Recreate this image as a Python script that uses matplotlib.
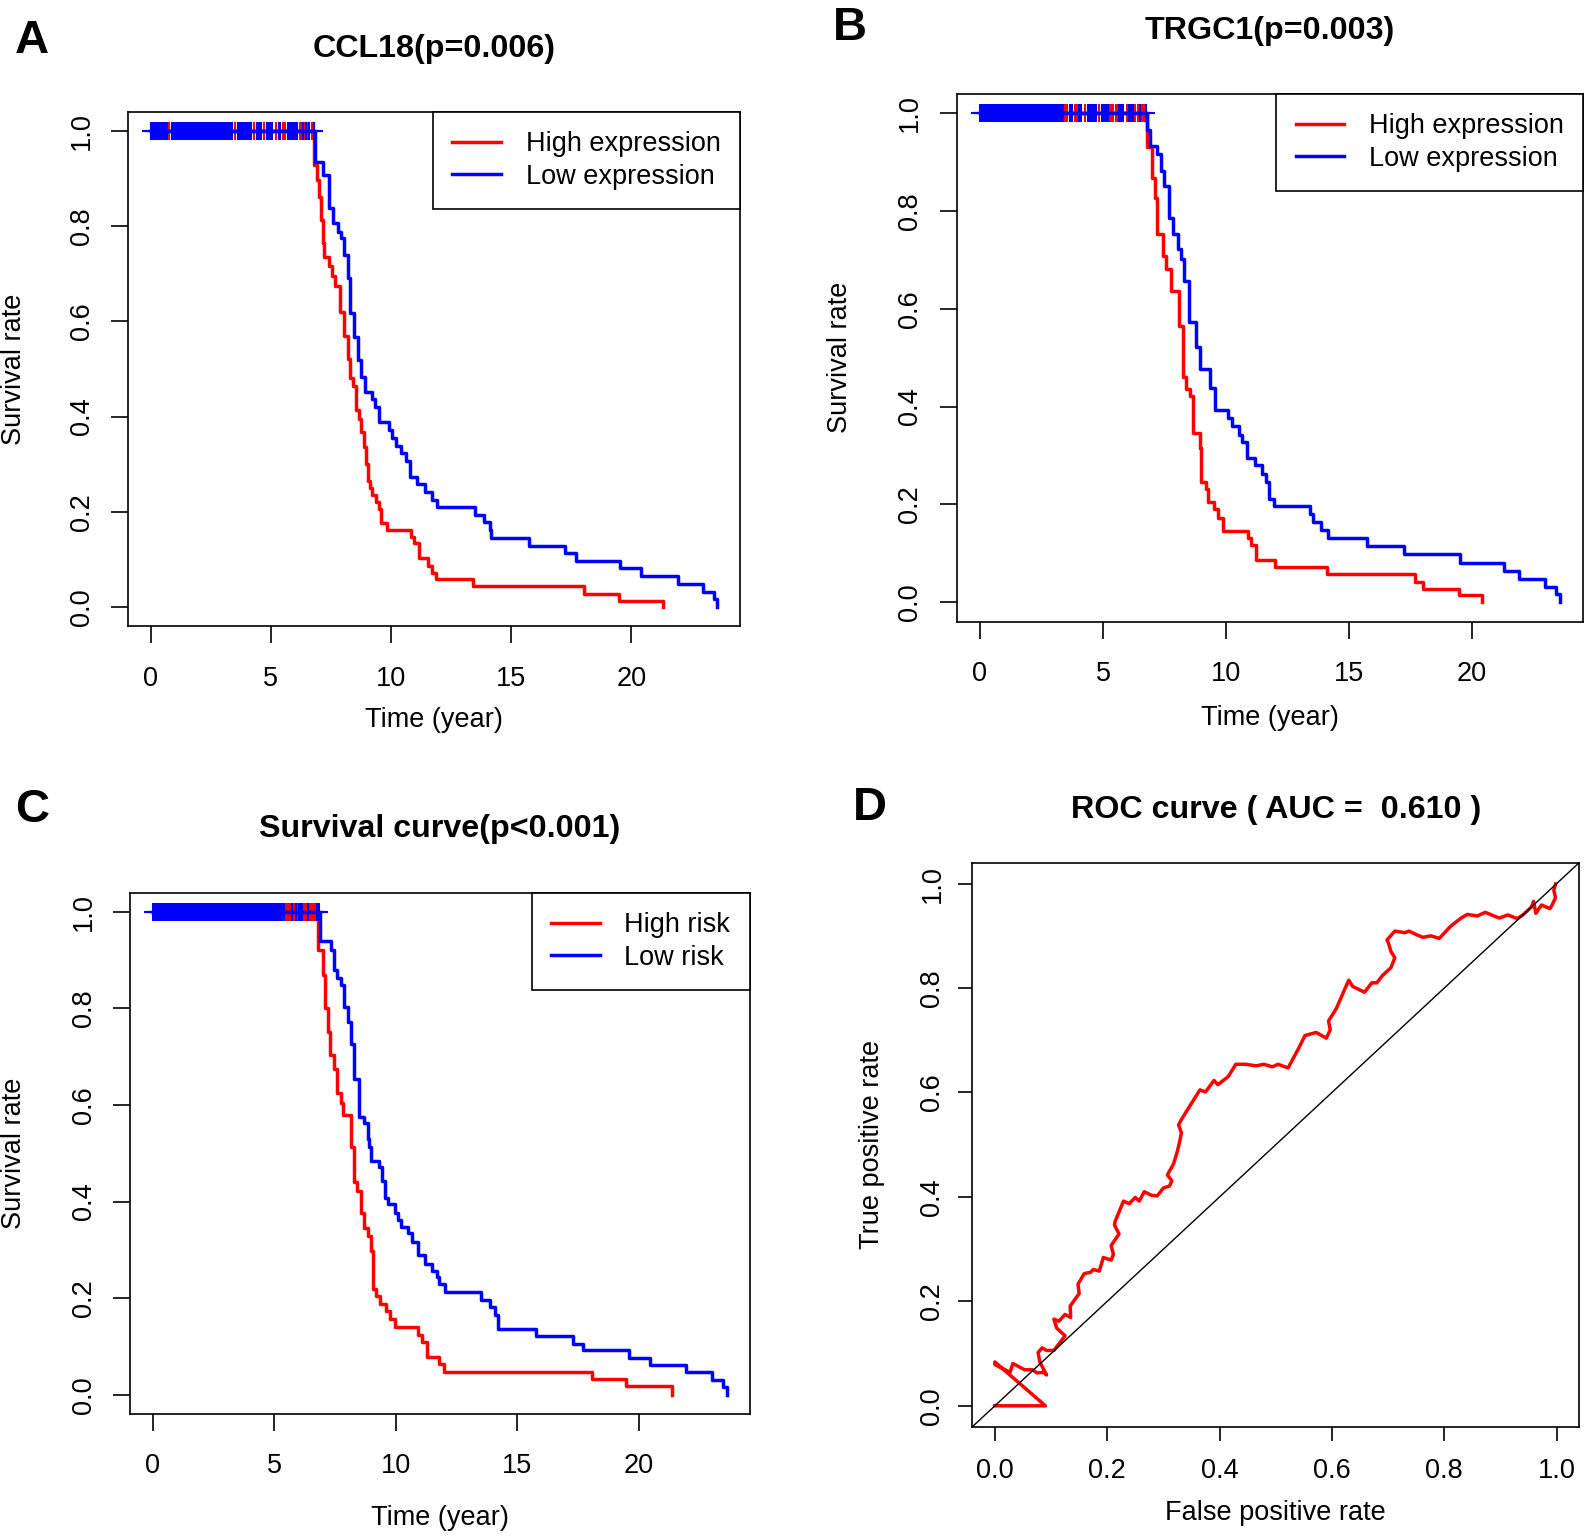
import numpy as np
import matplotlib
matplotlib.use("Agg")
import matplotlib.pyplot as plt
from matplotlib.lines import Line2D

plt.rcParams['font.family'] = ['Liberation Sans', 'DejaVu Sans']

# ------------------------------------------------------------------ data
# Panel A : CCL18
A_high_t = [6.80, 6.94, 7.02, 7.09, 7.15, 7.23, 7.44, 7.55, 7.65, 7.86, 8.06, 8.19, 8.30, 8.40,
            8.55, 8.65, 8.76, 8.86, 8.97, 9.06, 9.11, 9.20, 9.38, 9.48, 9.58, 9.83, 10.83, 10.97,
            11.15, 11.52, 11.70, 11.88, 13.41, 18.05, 19.48, 21.31]
A_high_s = [0.928, 0.896, 0.861, 0.812, 0.764, 0.735, 0.716, 0.694, 0.673, 0.619, 0.570, 0.520,
            0.480, 0.465, 0.414, 0.396, 0.368, 0.337, 0.300, 0.265, 0.250, 0.236, 0.221, 0.207,
            0.176, 0.163, 0.148, 0.134, 0.103, 0.087, 0.073, 0.059, 0.045, 0.029, 0.014, 0.0]
A_low_t = [6.84, 7.19, 7.40, 7.58, 7.79, 7.93, 8.06, 8.23, 8.30, 8.44, 8.62, 8.76, 8.93, 9.20,
           9.34, 9.48, 9.90, 10.04, 10.22, 10.43, 10.62, 10.80, 11.08, 11.43, 11.70, 11.91, 13.51,
           13.86, 14.13, 14.18, 15.73, 17.26, 17.68, 19.52, 20.42, 21.94, 23.00, 23.44, 23.58]
A_low_s = [0.935, 0.907, 0.837, 0.806, 0.788, 0.774, 0.739, 0.690, 0.617, 0.568, 0.519, 0.484,
           0.452, 0.438, 0.421, 0.388, 0.371, 0.355, 0.339, 0.323, 0.306, 0.274, 0.258, 0.242,
           0.226, 0.211, 0.194, 0.178, 0.162, 0.146, 0.129, 0.113, 0.097, 0.082, 0.066, 0.049,
           0.033, 0.017, 0.0]
A_high_cens = [0.05, 0.40, 0.78, 1.20, 1.65, 2.10, 2.70, 3.20, 3.50, 3.95, 4.30, 4.70, 5.20, 5.50,
               5.55, 5.60, 6.20, 6.27, 6.40, 6.52, 6.70, 6.78]
A_low_cens = [0.02, 0.10, 0.18, 0.26, 0.34, 0.42, 0.50, 0.58, 0.66, 0.90, 0.98, 1.06, 1.14, 1.22,
              1.30, 1.38, 1.46, 1.54, 1.62, 1.70, 1.78, 1.86, 1.94, 2.02, 2.10, 2.18, 2.26, 2.34,
              2.42, 2.50, 2.58, 2.66, 2.74, 2.82, 2.90, 2.98, 3.06, 3.14, 3.22, 3.30, 3.38, 3.62,
              3.70, 3.78, 3.86, 3.94, 4.02, 4.10, 4.18, 4.42, 4.50, 4.58, 4.82, 4.90, 4.98, 5.06,
              5.32, 5.40, 5.70, 5.78, 5.86, 5.94, 6.02, 6.10, 6.34, 6.45, 6.60, 6.80]

# Panel B : TRGC1
B_high_t = [6.80, 7.00, 7.10, 7.21, 7.42, 7.55, 7.76, 8.10, 8.24, 8.38, 8.54, 8.65, 8.93, 8.99,
            9.20, 9.27, 9.52, 9.68, 9.89, 10.89, 11.03, 11.22, 11.98, 14.12, 17.68, 18.02, 19.49,
            20.42]
B_high_s = [0.930, 0.868, 0.826, 0.754, 0.709, 0.681, 0.636, 0.564, 0.460, 0.436, 0.422, 0.346,
            0.315, 0.245, 0.232, 0.204, 0.190, 0.173, 0.145, 0.132, 0.118, 0.087, 0.073, 0.057,
            0.042, 0.028, 0.015, 0.0]
B_low_t = [6.77, 6.93, 7.21, 7.35, 7.48, 7.69, 7.83, 8.03, 8.17, 8.31, 8.51, 8.79, 8.93, 9.34,
           9.54, 10.09, 10.23, 10.51, 10.67, 10.85, 11.17, 11.47, 11.63, 11.74, 11.95, 13.41,
           13.55, 13.85, 14.16, 15.72, 17.24, 19.51, 21.30, 21.93, 22.97, 23.41, 23.58]
B_low_s = [0.965, 0.934, 0.916, 0.882, 0.851, 0.785, 0.754, 0.723, 0.702, 0.657, 0.574, 0.522,
           0.477, 0.439, 0.394, 0.377, 0.360, 0.342, 0.328, 0.294, 0.280, 0.263, 0.245, 0.211,
           0.197, 0.180, 0.164, 0.148, 0.132, 0.115, 0.098, 0.081, 0.064, 0.048, 0.032, 0.017, 0.0]
B_high_cens = [0.30, 0.90, 1.50, 2.20, 2.80, 3.44, 3.52, 3.85, 3.93, 4.26, 4.84, 5.30, 5.36, 5.42,
               5.51, 5.56, 5.97, 6.32, 6.41, 6.59, 6.66]
B_low_cens = [0.02, 0.10, 0.18, 0.26, 0.34, 0.42, 0.50, 0.58, 0.66, 0.74, 0.82, 0.90, 0.98, 1.06,
              1.14, 1.22, 1.30, 1.38, 1.46, 1.54, 1.62, 1.70, 1.78, 1.86, 1.94, 2.02, 2.10, 2.18,
              2.26, 2.34, 2.42, 2.50, 2.58, 2.66, 2.74, 2.82, 2.90, 2.98, 3.06, 3.14, 3.22, 3.30,
              3.38, 3.64, 3.72, 4.04, 4.12, 4.38, 4.46, 4.54, 4.62, 4.70, 4.96, 5.04, 5.12, 5.20,
              5.66, 5.74, 5.82, 6.06, 6.14, 6.22, 6.50, 6.76]

# Panel C : risk score
C_high_t = [6.80, 6.99, 7.10, 7.20, 7.28, 7.45, 7.59, 7.73, 7.84, 8.15, 8.26, 8.40, 8.56, 8.70,
            8.84, 8.98, 9.05, 9.19, 9.33, 9.61, 9.75, 9.96, 10.93, 11.07, 11.28, 11.76, 12.00,
            18.09, 19.47, 21.35]
C_high_s = [0.922, 0.869, 0.800, 0.751, 0.703, 0.674, 0.625, 0.604, 0.580, 0.513, 0.440, 0.422,
            0.377, 0.346, 0.328, 0.297, 0.219, 0.205, 0.187, 0.173, 0.156, 0.140, 0.124, 0.110,
            0.078, 0.063, 0.047, 0.032, 0.017, 0.0]
C_low_t = [6.89, 7.34, 7.45, 7.59, 7.76, 7.87, 8.03, 8.15, 8.29, 8.49, 8.70, 8.84, 8.90, 8.98,
           9.29, 9.43, 9.54, 9.68, 9.95, 10.09, 10.23, 10.51, 10.68, 10.89, 11.18, 11.49, 11.69,
           11.76, 12.01, 13.50, 13.87, 14.07, 14.21, 15.76, 17.30, 17.71, 19.59, 20.45, 21.96,
           23.03, 23.47, 23.61]
C_low_s = [0.940, 0.922, 0.880, 0.863, 0.849, 0.804, 0.772, 0.726, 0.653, 0.576, 0.562, 0.530,
           0.513, 0.485, 0.471, 0.443, 0.408, 0.394, 0.377, 0.362, 0.348, 0.334, 0.317, 0.289,
           0.271, 0.257, 0.243, 0.229, 0.213, 0.196, 0.181, 0.165, 0.137, 0.122, 0.106, 0.092,
           0.077, 0.061, 0.046, 0.030, 0.016, 0.0]
C_high_cens = [0.20, 0.85, 1.60, 2.40, 3.10, 3.90, 4.60, 5.20, 5.49, 5.53, 5.57, 5.61, 5.65, 5.81,
               5.92, 6.22, 6.30, 6.47, 6.51, 6.55, 6.59, 6.63, 6.70]
C_low_cens = [0.02, 0.10, 0.18, 0.26, 0.34, 0.42, 0.50, 0.58, 0.66, 0.74, 0.82, 0.90, 0.98, 1.06,
              1.14, 1.22, 1.30, 1.38, 1.46, 1.54, 1.62, 1.70, 1.78, 1.86, 1.94, 2.02, 2.10, 2.18,
              2.26, 2.34, 2.42, 2.50, 2.58, 2.66, 2.74, 2.82, 2.90, 2.98, 3.06, 3.14, 3.22, 3.30,
              3.38, 3.46, 3.54, 3.62, 3.70, 3.78, 3.86, 3.94, 4.02, 4.10, 4.18, 4.26, 4.34, 4.42,
              4.50, 4.58, 4.66, 4.74, 4.82, 4.90, 4.98, 5.06, 5.14, 5.22, 5.30, 5.38, 5.73, 5.87,
              6.00, 6.08, 6.15, 6.38, 6.76, 6.82]

# Panel D : ROC
roc_fpr = [0.0, 0.090, 0.0, 0.0, 0.027, 0.032, 0.053, 0.067, 0.075, 0.087,
           0.092, 0.080, 0.077, 0.084, 0.092, 0.105, 0.125, 0.110, 0.105, 0.114,
           0.125, 0.135, 0.134, 0.150, 0.148, 0.159, 0.171, 0.175, 0.186, 0.193,
           0.207, 0.211, 0.207, 0.221, 0.213, 0.214, 0.229, 0.239, 0.250, 0.257,
           0.266, 0.279, 0.289, 0.300, 0.311, 0.315, 0.307, 0.318, 0.322, 0.325,
           0.329, 0.332, 0.327, 0.332, 0.336, 0.365, 0.375, 0.390, 0.397, 0.415,
           0.429, 0.447, 0.465, 0.479, 0.494, 0.504, 0.522, 0.540, 0.552, 0.572,
           0.590, 0.597, 0.594, 0.608, 0.622, 0.630, 0.637, 0.658, 0.671, 0.680,
           0.690, 0.705, 0.712, 0.705, 0.701, 0.698, 0.712, 0.730, 0.737, 0.751,
           0.762, 0.776, 0.791, 0.812, 0.830, 0.841, 0.859, 0.873, 0.884, 0.898,
           0.913, 0.930, 0.941, 0.955, 0.959, 0.963, 0.973, 0.988, 0.991, 0.998,
           0.995, 0.998]
roc_tpr = [0.0, 0.0, 0.084, 0.079, 0.064, 0.081, 0.069, 0.069, 0.063, 0.064,
           0.059, 0.084, 0.102, 0.111, 0.106, 0.106, 0.134, 0.149, 0.166, 0.162,
           0.175, 0.169, 0.191, 0.215, 0.233, 0.253, 0.256, 0.261, 0.258, 0.284,
           0.279, 0.290, 0.307, 0.329, 0.346, 0.353, 0.392, 0.387, 0.399, 0.392,
           0.410, 0.403, 0.402, 0.417, 0.421, 0.431, 0.442, 0.463, 0.477, 0.488,
           0.506, 0.523, 0.538, 0.548, 0.555, 0.605, 0.601, 0.623, 0.615, 0.630,
           0.654, 0.654, 0.651, 0.654, 0.649, 0.654, 0.647, 0.683, 0.709, 0.715,
           0.704, 0.720, 0.737, 0.761, 0.796, 0.815, 0.803, 0.792, 0.810, 0.810,
           0.824, 0.839, 0.858, 0.870, 0.885, 0.892, 0.909, 0.906, 0.909, 0.902,
           0.897, 0.900, 0.895, 0.919, 0.934, 0.941, 0.938, 0.945, 0.940, 0.934,
           0.940, 0.933, 0.941, 0.955, 0.966, 0.943, 0.959, 0.952, 0.957, 0.973,
           0.987, 0.999]

time_ticks = [0, 5, 10, 15, 20]
surv_ticks = [0.0, 0.2, 0.4, 0.6, 0.8, 1.0]
surv_tick_labels = ['0.0', '0.2', '0.4', '0.6', '0.8', '1.0']
rate_ticks = [0.0, 0.2, 0.4, 0.6, 0.8, 1.0]
rate_tick_labels = ['0.0', '0.2', '0.4', '0.6', '0.8', '1.0']

# ------------------------------------------------------------------ figure
W, H, DPI = 1587, 1538, 100
fig = plt.figure(figsize=(W / DPI, H / DPI), dpi=DPI)
fig.patch.set_facecolor('white')

FS = 19.5      # axis text
TFS = 23.2     # titles
LW = 2.5       # curve width


def make_axes(left, right, top, bottom):
    return fig.add_axes([left / W, 1 - bottom / H, (right - left) / W, (bottom - top) / H])


def surv_at(times, surv, t):
    idx = np.searchsorted(np.asarray(times), np.asarray(t), side='right') - 1
    s = np.concatenate([[1.0], np.asarray(surv)])
    return s[idx + 1]


def style_axes(ax, xt, xtl, yt, ytl, ticklen, xpad, ypad):
    ax.set_xticks(xt, xtl, fontsize=FS)
    ax.set_yticks(yt, ytl, fontsize=FS, rotation=90, va='center')
    for sp in ax.spines.values():
        sp.set_linewidth(1.2)
    ax.tick_params(axis='both', direction='out', length=ticklen, width=1.2)
    ax.tick_params(axis='x', pad=xpad)
    ax.tick_params(axis='y', pad=ypad)


def km_panel(ax, hi_t, hi_s, lo_t, lo_s, hi_c, lo_c, labels, title, title_y, xl_y, yl_x):
    xmax = max(max(hi_t), max(lo_t))
    for t, s, c, col in ((hi_t, hi_s, hi_c, 'red'), (lo_t, lo_s, lo_c, 'blue')):
        ax.step([0.0] + t, [1.0] + s, where='post', color=col, lw=LW)
        ax.plot(c, surv_at(t, s, c), ls='none', marker='+', ms=13.5, mew=1.5, color=col)
    ax.set_xlim(-0.04 * xmax, 1.04 * xmax)
    ax.set_ylim(-0.04, 1.04)
    style_axes(ax, time_ticks, [str(v) for v in time_ticks], surv_ticks, surv_tick_labels,
               12, 16.2, 12.1)
    handles = [Line2D([], [], color='red', lw=LW), Line2D([], [], color='blue', lw=LW)]
    leg = ax.legend(handles, labels, loc='upper right', bbox_to_anchor=(1, 1),
                    borderaxespad=0, frameon=True, fancybox=False, edgecolor='black',
                    framealpha=1, fontsize=FS, handlelength=1.8, handletextpad=0.9,
                    borderpad=0.72, labelspacing=0.25)
    leg.get_frame().set_linewidth(1.2)
    ax.set_title(title, fontsize=TFS, fontweight='bold', y=title_y, va='baseline', pad=0)
    ax.set_xlabel('Time (year)', fontsize=FS, va='center')
    ax.xaxis.set_label_coords(0.5, xl_y)
    ax.set_ylabel('Survival rate', fontsize=FS, va='center')
    ax.yaxis.set_label_coords(yl_x, 0.5)


axA = make_axes(128.1, 739.9, 111.5, 626.4)
km_panel(axA, A_high_t, A_high_s, A_low_t, A_low_s, A_high_cens, A_low_cens,
         ['High expression', 'Low expression'], 'CCL18(p=0.006)', 1.1058, -0.181, -0.186)

axB = make_axes(956.8, 1583.2, 93.7, 621.8)
km_panel(axB, B_high_t, B_high_s, B_low_t, B_low_s, B_high_cens, B_low_cens,
         ['High expression', 'Low expression'], 'TRGC1(p=0.003)', 1.1040, -0.1814, -0.1865)

axC = make_axes(130.0, 749.5, 892.6, 1414.0)
km_panel(axC, C_high_t, C_high_s, C_low_t, C_low_s, C_high_cens, C_low_cens,
         ['High risk', 'Low risk'], 'Survival curve(p<0.001)', 1.1059, -0.1995, -0.187)

axD = make_axes(972.4, 1579.1, 862.7, 1426.7)
axD.plot(roc_fpr, roc_tpr, color='red', lw=LW)
axD.axline((0, 0), (1, 1), color='black', lw=1.0)
axD.set_xlim(-0.04, 1.04)
axD.set_ylim(-0.04, 1.04)
style_axes(axD, rate_ticks, rate_tick_labels, rate_ticks, rate_tick_labels, 10, 12.4, 9.4)
axD.set_title('ROC curve ( AUC =  0.610 )', fontsize=TFS, fontweight='bold', y=1.0791,
              va='baseline', pad=0)
axD.set_xlabel('False positive rate', fontsize=FS, va='center')
axD.xaxis.set_label_coords(0.5, -0.153)
axD.set_ylabel('True positive rate', fontsize=FS, va='center')
axD.yaxis.set_label_coords(-0.165, 0.5)

# panel letters
for letter, x, yb in (('A', 31.4, 52.6), ('B', 850.0, 39.5), ('C', 32.4, 821.8), ('D', 870.0, 819.8)):
    fig.text(x / W, 1 - yb / H, letter, fontsize=34, fontweight='bold', ha='center', va='baseline')

fig.savefig('out.png', dpi=DPI, facecolor='white')
